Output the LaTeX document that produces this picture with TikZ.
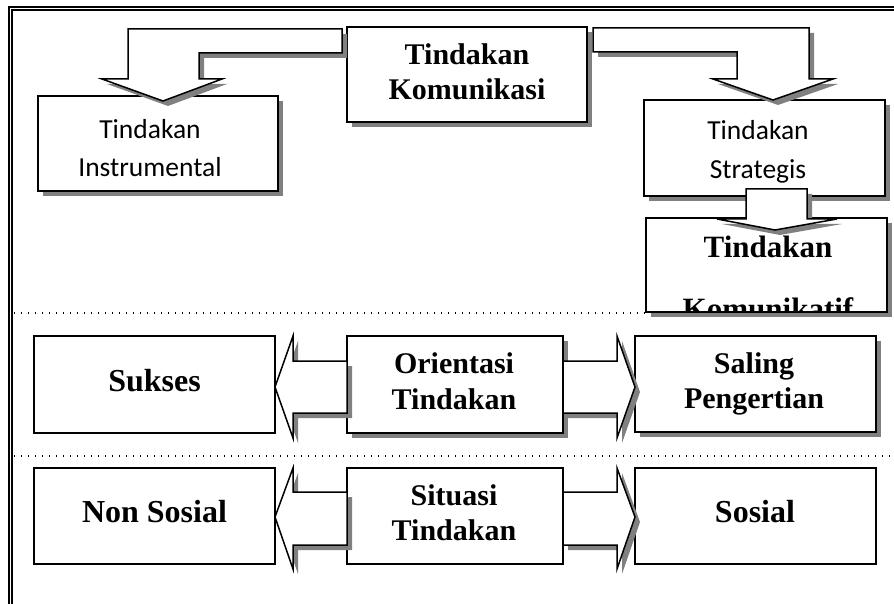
\documentclass[tikz,border=0pt]{standalone}
\usepackage{fontspec}
\setmainfont{Liberation Serif}
\newfontfamily\calib{Carlito}
\usetikzlibrary{shadows}
\definecolor{shadowgray}{RGB}{128,128,128}
\tikzset{
  frameline/.style={line width=1.1pt},
  sepline/.style={line width=1.5pt, dash pattern=on 1.4pt off 5.6pt},
  box/.style={draw, line width=1.7pt, fill=white, inner sep=0pt},
  shbox/.style={box, drop shadow={shadow xshift=5pt, shadow yshift=-5pt, fill=shadowgray, opacity=1}},
  arrowline/.style={draw, line width=1.5pt, fill=white, line join=miter},
  boldtxt/.style={inner sep=0pt, align=center, font=\fontsize{30}{35.5}\selectfont\bfseries},
  bigtxt/.style={inner sep=0pt, align=center, font=\fontsize{32}{36}\selectfont\bfseries},
  caltxt/.style={inner sep=0pt, align=center, font=\calib\fontsize{27.5}{38.5}\selectfont},
}
\newcommand\blockarrow[1]{\fill[shadowgray, shift={(5,5)}] #1; \draw[arrowline] #1;}
\begin{document}
\begin{tikzpicture}[x=1pt, y=-1pt]
\useasboundingbox (0,0) rectangle (894,604);
% frame (double line)
\draw[frameline] (9,604) -- (9,7) -- (894,7);
\draw[frameline] (12,604) -- (12,10) -- (894,10);
% separators
\draw[sepline] (14,313) -- (894,313);
\draw[sepline] (14,456) -- (894,456);
% boxes
\node[shbox, minimum width=240pt, minimum height=95pt] (kom) at (467,74.5) {};
\node[shbox, minimum width=240pt, minimum height=95pt] (instr) at (158,143.5) {};
\node[shbox, minimum width=241pt, minimum height=96pt] (strat) at (764.5,148) {};
\node[shbox, minimum width=241pt, minimum height=94pt] (komtif) at (766.5,265) {};
\node[box, minimum width=241pt, minimum height=97pt] (sukses) at (154.5,384.5) {};
\node[shbox, minimum width=216pt, minimum height=97pt] (orient) at (455,384.5) {};
\node[shbox, minimum width=241pt, minimum height=96pt] (saling) at (755.5,384) {};
\node[box, minimum width=241pt, minimum height=96pt] (nonsos) at (154.5,516) {};
\node[box, minimum width=216pt, minimum height=96pt] (situasi) at (455,516) {};
\node[box, minimum width=241pt, minimum height=96pt] (sosial) at (755.5,516) {};
% block arrows
\blockarrow{(342,29) -- (128,29) -- (128,79) -- (102,79) -- (163,101) -- (222,79) -- (199,79) -- (199,53) -- (342,53) -- cycle}
\blockarrow{(593,28) -- (809,28) -- (809,79) -- (833,79) -- (773,100) -- (713,79) -- (737,79) -- (737,52) -- (593,52) -- cycle}
\blockarrow{(746,189) -- (807,189) -- (807,219) -- (837,219) -- (775,230) -- (717,219) -- (746,219) -- cycle}
\blockarrow{(347,361) -- (293,361) -- (293,336) -- (275,387) -- (293,438) -- (293,413) -- (347,413) -- cycle}
\blockarrow{(563,361) -- (617,361) -- (617,336) -- (635,387) -- (617,438) -- (617,413) -- (563,413) -- cycle}
\blockarrow{(347,492) -- (293,492) -- (293,468) -- (275,517) -- (293,569) -- (293,545) -- (347,545) -- cycle}
\blockarrow{(563,492) -- (617,492) -- (617,468) -- (635,517) -- (617,569) -- (617,545) -- (563,545) -- cycle}
% texts
\node[boldtxt] (komT) at (467,72) {Tindakan\\Komunikasi};
\node[caltxt] (instrT) at (150,148) {Tindakan\\Instrumental};
\node[caltxt] (stratT) at (758,152) {Tindakan\\Strategis};
\node[bigtxt] (suksesT) at (154.5,381) {Sukses};
\node[boldtxt] (orientT) at (454,381) {Orientasi\\Tindakan};
\node[boldtxt] (salingT) at (754,384) {Saling\\Pengertian};
\node[bigtxt] (nonsosT) at (154.5,512) {Non Sosial};
\node[boldtxt] (situasiT) at (454,512.5) {Situasi\\Tindakan};
\node[bigtxt] (sosialT) at (755,512) {Sosial};
\begin{scope}
\clip (647,219) rectangle (886,311);
\node[inner sep=0pt, anchor=base, font=\fontsize{31}{36}\selectfont\bfseries] (komtifA) at (768,258) {Tindakan};
\node[inner sep=0pt, anchor=base, font=\fontsize{31}{36}\selectfont\bfseries] (komtifB) at (768,319) {Komunikatif};
\end{scope}
\end{tikzpicture}
\end{document}
